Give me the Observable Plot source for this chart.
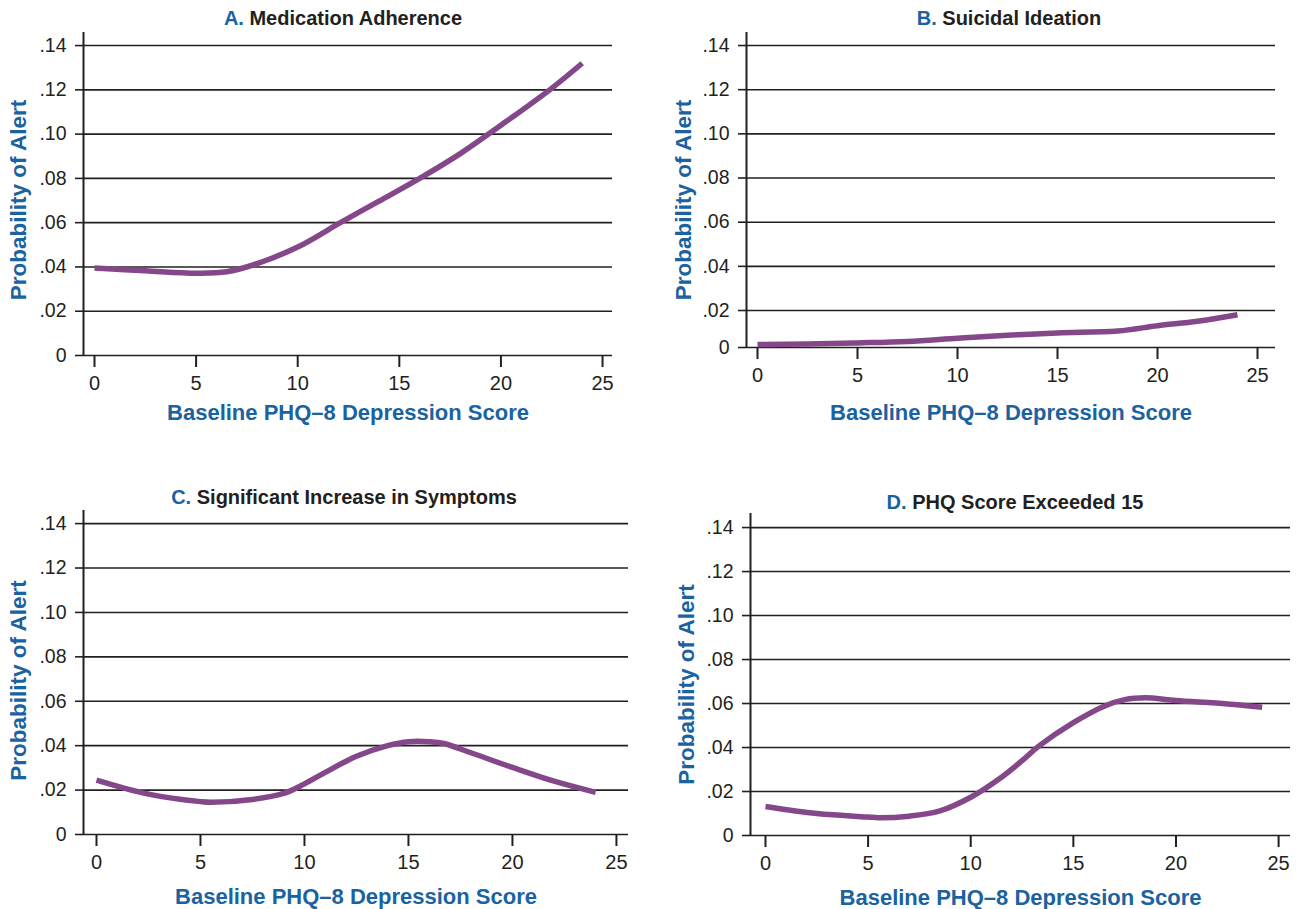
<!DOCTYPE html>
<html><head><meta charset="utf-8">
<script src="https://cdn.jsdelivr.net/npm/d3@7"></script>
<script src="https://cdn.jsdelivr.net/npm/@observablehq/plot@0.6"></script>
<style>
body{margin:0;background:#fff;}
#wrap{position:relative;width:1304px;height:909px;font-family:"Liberation Sans",Arial,sans-serif;overflow:hidden;}
.panel{position:absolute;}
.title{position:absolute;width:600px;text-align:center;font-weight:bold;font-size:20px;color:#231f20;white-space:nowrap;line-height:1;}
.title .k{color:#1b62a0;}
</style></head><body><div id="wrap"></div>
<script>
// ---- data ----
const xTicks = [0, 5, 10, 15, 20, 25];
const yTicks = [0, 0.02, 0.04, 0.06, 0.08, 0.10, 0.12, 0.14];
const xLabel = "Baseline PHQ–8 Depression Score";
const yLabel = "Probability of Alert";
const panelKeys = ["A.", "B.", "C.", "D."];
const panelTitles = ["Medication Adherence", "Suicidal Ideation", "Significant Increase in Symptoms", "PHQ Score Exceeded 15"];

const scoreA = [0, 2.5, 5, 6.5, 8, 10, 12.1, 14, 16, 18, 20, 22.4, 24];
const probA  = [0.0395, 0.0383, 0.0372, 0.0378, 0.0415, 0.0490, 0.0600, 0.0697, 0.0800, 0.0912, 0.1040, 0.1200, 0.1320];

const scoreB = [0, 2.5, 5, 7.5, 10, 12.5, 15, 18, 20, 22, 24];
const probB  = [0.0016, 0.0019, 0.0025, 0.0033, 0.0050, 0.0066, 0.0079, 0.0089, 0.0118, 0.0142, 0.0177];

const scoreC = [0, 2.5, 5, 5.5, 7.5, 9, 10, 11, 12.5, 14, 15, 16, 16.7, 18, 20, 22, 24];
const probC  = [0.0245, 0.0182, 0.0148, 0.0145, 0.0158, 0.0185, 0.0228, 0.0280, 0.0352, 0.0400, 0.0418, 0.0418, 0.0410, 0.0368, 0.0302, 0.0240, 0.0190];

const scoreD = [0, 2.5, 5, 5.5, 7, 8.5, 10, 11.5, 12.5, 13.3, 15, 16.5, 17.5, 18.5, 20, 22.5, 24.2];
const probD  = [0.0132, 0.0100, 0.0084, 0.0081, 0.0088, 0.0112, 0.0174, 0.0265, 0.0340, 0.0405, 0.0513, 0.0588, 0.0618, 0.0626, 0.0614, 0.0598, 0.0583];

const series = [[scoreA, probA], [scoreB, probB], [scoreC, probC], [scoreD, probD]];

// ---- layout ----
const BLUE = "#1b62a0", INK = "#231f20", PURPLE = "#84488a";
const W = 652, H = 455;
// Panel B's axis is drawn with the band between 0 and .02 compressed, as in the source figure
const squashB = v => v >= 0.02 ? v : 0.02 - (0.02 - v) * 0.8377;
const layouts = [
  {left: 0,   top: 0,   ml: 83, mr: 40, mt: 32, mb: 100, xd: [-0.541, 25.49], y: {domain: [0, 0.1459]}, ydx: -65, ydy: 6, xdy: 57, tx: 343, ty: 18},
  {left: 652, top: 0,   ml: 94, mr: 29, mt: 32, mb: 108, xd: [-0.55, 25.9], y: {domain: [squashB(0), 0.1459], transform: squashB}, ydx: -63, ydy: 10, xdy: 65, tx: 1009, ty: 18},
  {left: 0,   top: 454, ml: 83, mr: 24, mt: 56, mb: 75, xd: [-0.625, 25.58], y: {domain: [0, 0.1459]}, ydx: -65, ydy: 8, xdy: 62, tx: 344, ty: 497},
  {left: 652, top: 454, ml: 98, mr: 14, mt: 59, mb: 74, xd: [-0.73, 25.58], y: {domain: [0, 0.1464]}, ydx: -64, ydy: 10, xdy: 62, tx: 1015, ty: 502}
];

const fmtY = d => d === 0 ? "0" : d.toFixed(2).replace(/^0/, "");
const wrap = document.getElementById("wrap");

layouts.forEach((L, i) => {
  const [xs, ys] = series[i];
  const data = xs.map((x, j) => ({x, y: ys[j]}));
  const svg = Plot.plot({
    width: W, height: H,
    marginLeft: L.ml, marginRight: L.mr, marginTop: L.mt, marginBottom: L.mb,
    style: {fontFamily: '"Liberation Sans", Arial, sans-serif', fontSize: "20px", color: INK, background: "transparent", overflow: "visible"},
    x: {domain: L.xd},
    y: L.y,
    marks: [
      Plot.ruleY(yTicks, {stroke: INK, strokeWidth: 1.6}),
      Plot.ruleX([L.xd[0]], {stroke: INK, strokeWidth: 2}),
      Plot.axisX(xTicks, {tickSize: 12, tickPadding: 8, strokeWidth: 2, stroke: INK, fill: INK, label: null, fontSize: 20, tickFormat: d => String(d)}),
      Plot.axisY(yTicks, {tickSize: 8, tickPadding: 9, strokeWidth: 1.6, stroke: INK, fill: INK, label: null, fontSize: 19.5, tickFormat: fmtY}),
      Plot.line(data, {x: "x", y: "y", curve: "catmull-rom", stroke: PURPLE, strokeWidth: 5.5, strokeLinecap: "butt"}),
      Plot.text([yLabel], {text: d => d, frameAnchor: "left", textAnchor: "middle", lineAnchor: "middle", rotate: -90, dx: L.ydx, dy: L.ydy, fill: BLUE, fontWeight: "bold", fontSize: 22.5}),
      Plot.text([xLabel], {text: d => d, frameAnchor: "bottom", textAnchor: "middle", lineAnchor: "middle", dy: L.xdy, fill: BLUE, fontWeight: "bold", fontSize: 22})
    ]
  });
  svg.classList.add("panel");
  svg.style.left = L.left + "px";
  svg.style.top = L.top + "px";
  svg.style.position = "absolute";
  wrap.appendChild(svg);

  const t = document.createElement("div");
  t.className = "title";
  t.style.left = (L.tx - 300) + "px";
  t.style.top = (L.ty - 10) + "px";
  const k = document.createElement("span");
  k.className = "k";
  k.textContent = panelKeys[i];
  t.appendChild(k);
  t.appendChild(document.createTextNode(" " + panelTitles[i]));
  wrap.appendChild(t);
});
</script>
</body></html>
